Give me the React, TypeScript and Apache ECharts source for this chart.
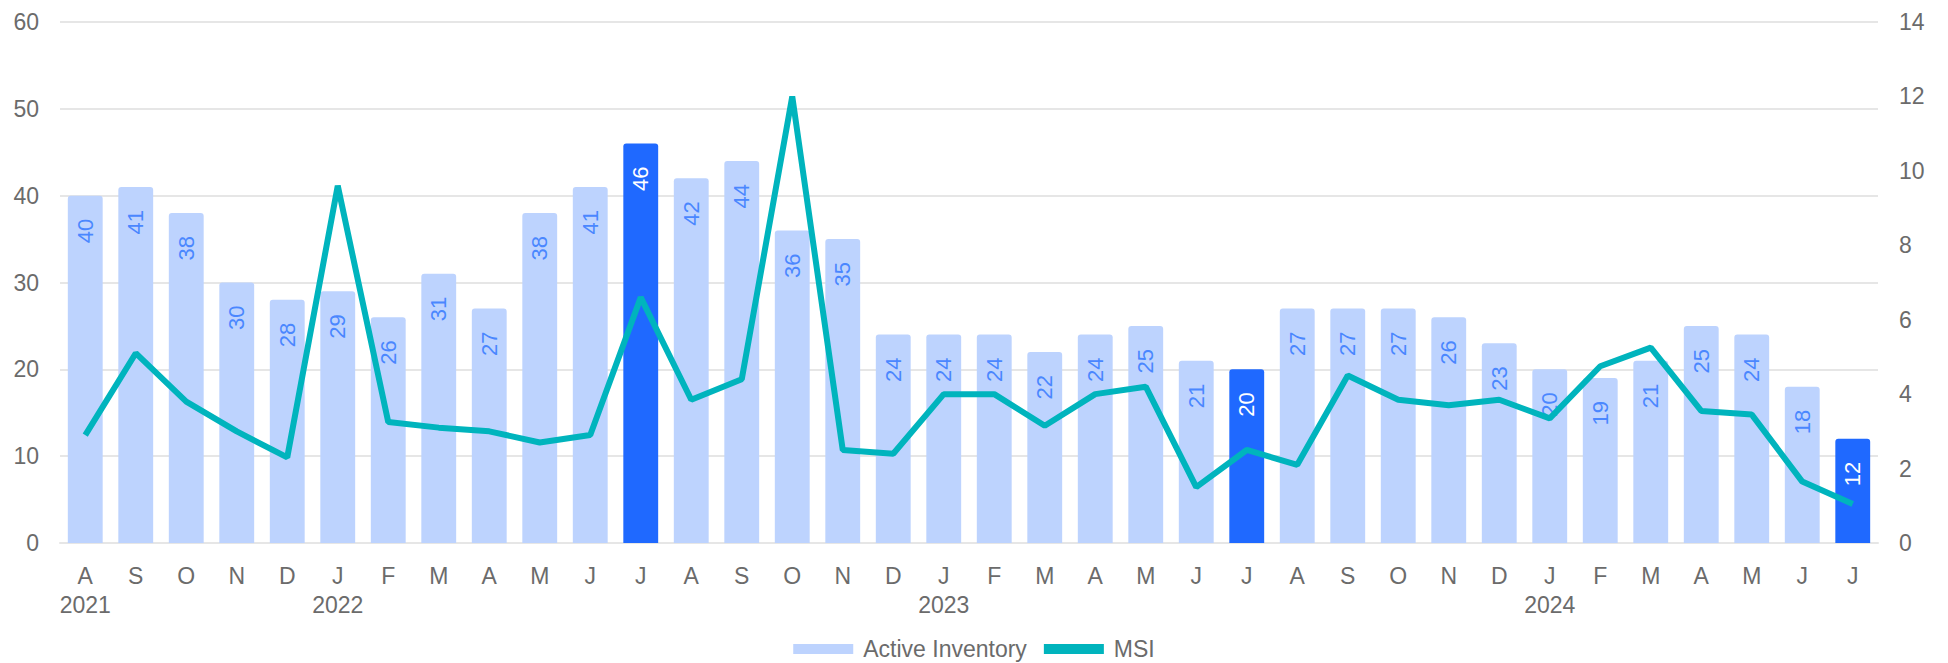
import React, { useEffect, useRef } from "react";
import * as echarts from "echarts";

const months = ["A","S","O","N","D","J","F","M","A","M","J","J","A","S","O","N","D","J","F","M","A","M","J","J","A","S","O","N","D","J","F","M","A","M","J","J"];
const years = ["2021","","","","","2022","","","","","","","","","","","","2023","","","","","","","","","","","","2024","","","","","",""];
const activeInventory = [40,41,38,30,28,29,26,31,27,38,41,46,42,44,36,35,24,24,24,22,24,25,21,20,27,27,27,26,23,20,19,21,25,24,18,12];
const msi = [2.9,5.1,3.8,3.0,2.3,9.6,3.25,3.1,3.0,2.7,2.9,6.6,3.85,4.4,12.0,2.5,2.4,4.0,4.0,3.15,4.0,4.2,1.5,2.5,2.1,4.5,3.85,3.7,3.85,3.35,4.75,5.25,3.55,3.45,1.65,1.05];
const highlighted = [false,false,false,false,false,false,false,false,false,false,false,true,false,false,false,false,false,false,false,false,false,false,false,true,false,false,false,false,false,false,false,false,false,false,false,true];
const leftTicks = { min: 0, max: 60, interval: 10 };
const rightTicks = { min: 0, max: 14, interval: 2 };

const LIGHT = "#bdd3fe";
const DARK = "#1f69ff";
const TEAL = "#00b4bd";
const LABEL_BLUE = "#4a87ff";
const TEXT = "#6b6b6b";
const FONT = "'Liberation Sans', Arial, sans-serif";

export default function App() {
  const ref = useRef<HTMLDivElement>(null);
  useEffect(() => {
    if (!ref.current) return;
    const chart = echarts.init(ref.current, undefined, { renderer: "svg" });
    const categories = months.map((m, i) => (years[i] ? m + "\n" + years[i] : m));
    chart.setOption({
      animation: false,
      textStyle: { fontFamily: FONT },
      grid: { left: 60, right: 70, top: 22, bottom: 120, containLabel: false },
      legend: {
        top: 636,
        left: "center",
        padding: 0,
        itemWidth: 60,
        itemHeight: 10,
        itemGap: 17,
        textStyle: { fontSize: 23, lineHeight: 26, color: TEXT, fontFamily: FONT, padding: [0, 0, 0, 5] },
        data: [
          { name: "Active Inventory", icon: "rect", itemStyle: { color: LIGHT } },
          { name: "MSI", icon: "rect", itemStyle: { color: TEAL } },
        ],
      },
      xAxis: {
        type: "category",
        data: categories,
        axisLine: { show: true, lineStyle: { color: "#e6e6e6", width: 2 } },
        axisTick: { show: false },
        axisLabel: { color: TEXT, fontSize: 23, margin: 18, lineHeight: 29, interval: 0, fontFamily: FONT },
      },
      yAxis: [
        {
          type: "value",
          min: leftTicks.min,
          max: leftTicks.max,
          interval: leftTicks.interval,
          axisLabel: { color: TEXT, fontSize: 23, margin: 21, fontFamily: FONT },
          axisLine: { show: false },
          axisTick: { show: false },
          splitLine: { lineStyle: { color: "#e6e6e6", width: 2 } },
        },
        {
          type: "value",
          min: rightTicks.min,
          max: rightTicks.max,
          interval: rightTicks.interval,
          axisLabel: { color: TEXT, fontSize: 23, margin: 21, fontFamily: FONT },
          axisLine: { show: false },
          axisTick: { show: false },
          splitLine: { show: false },
        },
      ],
      series: [
        {
          name: "Active Inventory",
          type: "bar",
          barCategoryGap: "31%",
          itemStyle: { color: LIGHT, borderRadius: [3, 3, 0, 0] },
          data: activeInventory.map((v, i) => ({
            value: v,
            itemStyle: { color: highlighted[i] ? DARK : LIGHT, borderRadius: [3, 3, 0, 0] },
            label: { color: highlighted[i] ? "#ffffff" : LABEL_BLUE },
          })),
          label: {
            show: true,
            position: "insideTop",
            rotate: 90,
            align: "right",
            verticalAlign: "middle",
            distance: 23,
            fontSize: 22,
            fontFamily: FONT,
          },
        },
        {
          name: "MSI",
          type: "line",
          yAxisIndex: 1,
          data: msi,
          symbol: "none",
          lineStyle: { color: TEAL, width: 6 },
          itemStyle: { color: TEAL },
          z: 3,
        },
      ],
    });
    return () => chart.dispose();
  }, []);
  return (
    <div
      ref={ref}
      style={{ position: "fixed", left: 0, top: 0, width: 1948, height: 663, background: "#fff" }}
    />
  );
}
